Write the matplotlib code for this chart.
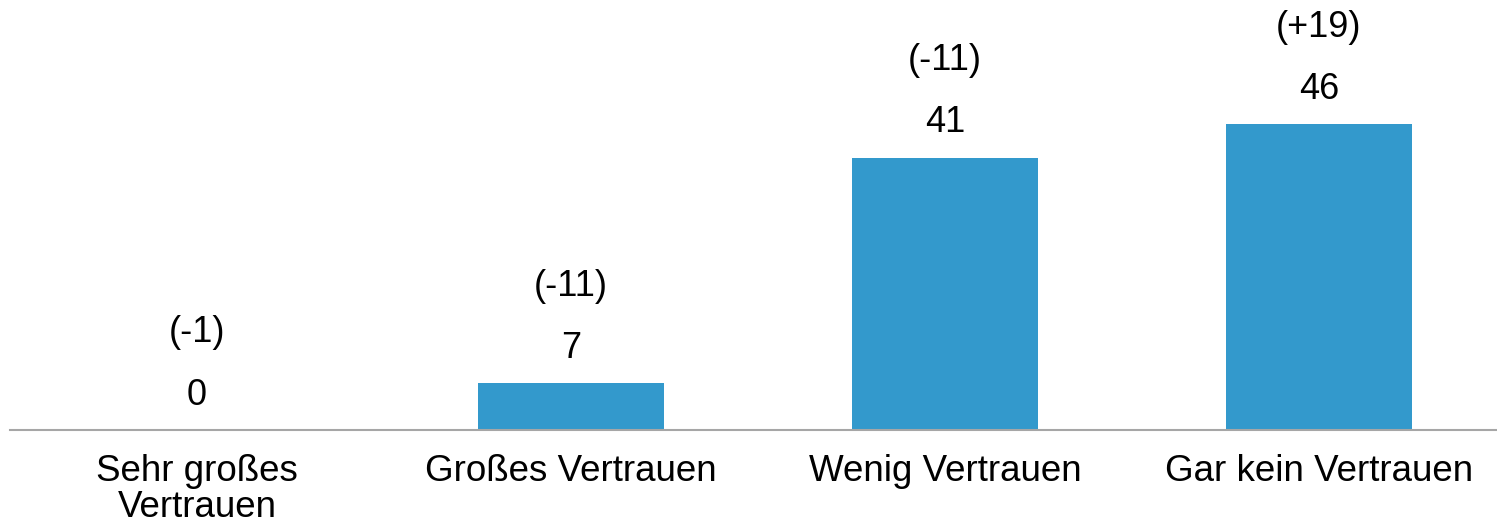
import matplotlib.pyplot as plt

categories = ["Sehr großes\nVertrauen", "Großes Vertrauen", "Wenig Vertrauen", "Gar kein Vertrauen"]
values = [0, 7, 41, 46]
changes = ["(-1)", "(-11)", "(-11)", "(+19)"]

bar_color = "#3399cc"
axis_color = "#a6a6a6"

plt.rcParams['font.family'] = ['Liberation Sans', 'DejaVu Sans']

fig = plt.figure(figsize=(14.97, 5.24), dpi=100)
ax = fig.add_axes([10 / 1497, (524 - 430) / 524, 1487 / 1497, 430 / 524])

x = list(range(len(categories)))
ax.bar(x, values, width=0.495, color=bar_color)

for xi, v, c in zip(x, values, changes):
    ax.annotate(str(v), (xi, v), xytext=(0, 25), textcoords='offset points',
                ha='center', va='center', fontsize=26, color='black')
    ax.annotate(c, (xi, v), xytext=(0, 70), textcoords='offset points',
                ha='center', va='center', fontsize=26, color='black')

ax.set_xlim(-0.5, 3.476)
ax.set_ylim(0, 64.7)
ax.set_xticks(x)
ax.set_xticklabels(categories, fontsize=26.5, linespacing=1.05)
ax.tick_params(axis='x', length=0, pad=17)
ax.set_yticks([])

for side in ['top', 'right', 'left']:
    ax.spines[side].set_visible(False)
ax.spines['bottom'].set_color(axis_color)
ax.spines['bottom'].set_linewidth(1.5)

fig.savefig("out.png", dpi=100)
